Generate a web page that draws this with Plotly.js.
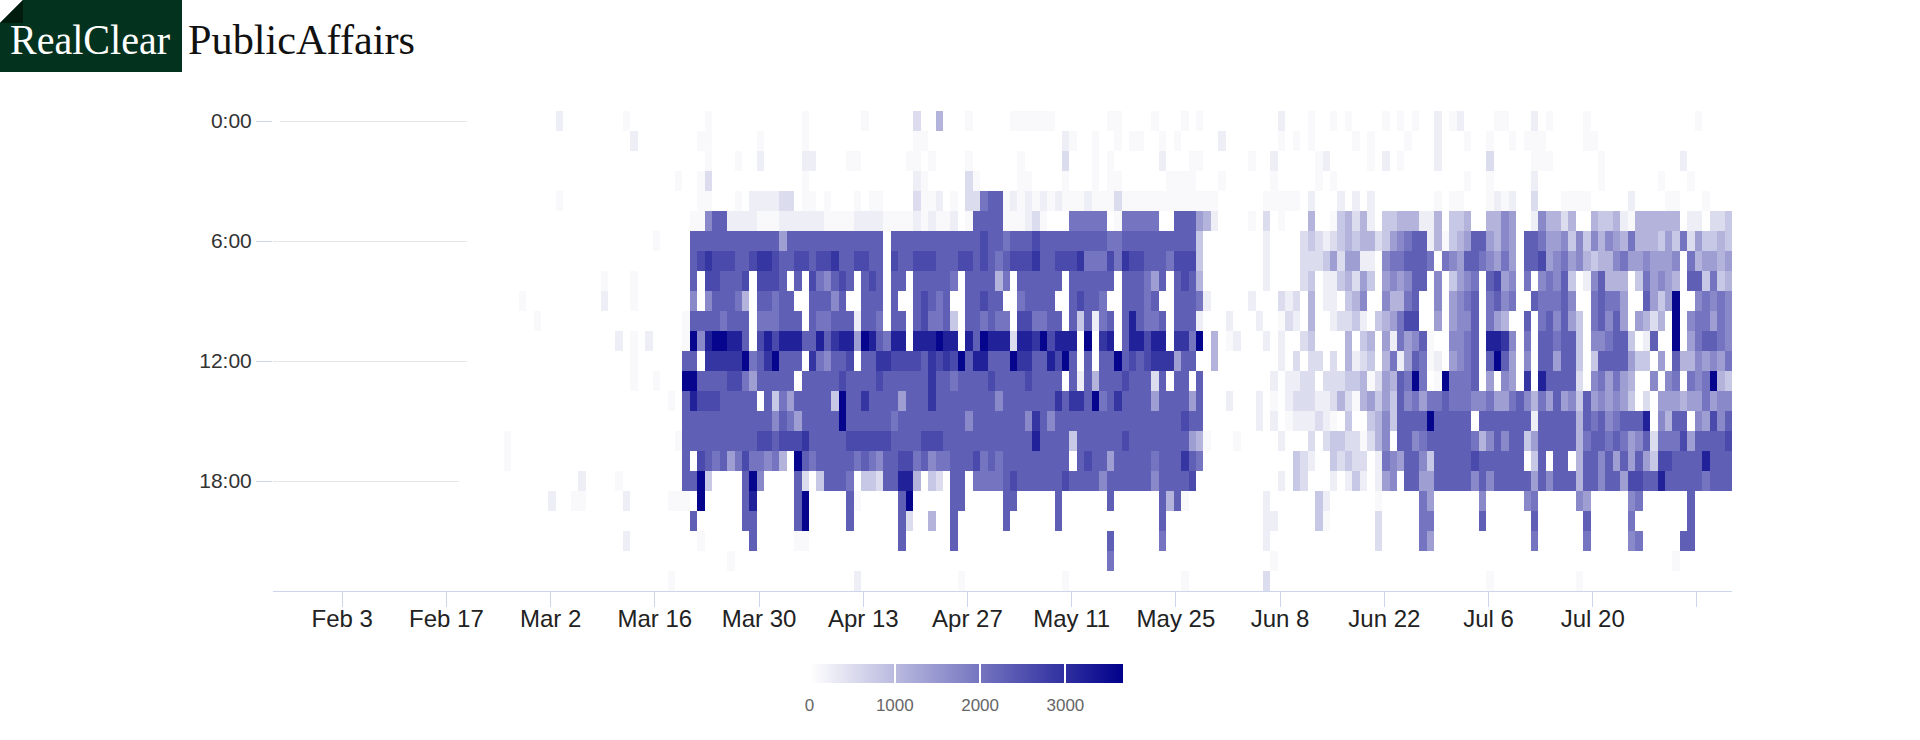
<!DOCTYPE html>
<html>
<head>
<meta charset="utf-8">
<script src="https://cdn.plot.ly/plotly-3.0.1.min.js"></script>
<style>
  html, body { margin: 0; padding: 0; background: #fff; }
  #wrap { position: relative; width: 1920px; height: 740px; }
  #chart { position: absolute; left: 0; top: 0; width: 1920px; height: 740px; }
  #logo { position: absolute; left: 0; top: 0; }
</style>
</head>
<body>
<div id="wrap">
  <div id="chart"></div>
  <svg id="logo" width="430" height="80" viewBox="0 0 430 80">
    <polygon points="23,0 182,0 182,72 0,72 0,23" fill="#03331f"/>
    <polygon points="0,23 23,0 23,23" fill="#011c0f"/>
    <text x="10" y="54" font-family="'Liberation Serif','Times New Roman',serif" font-size="42" fill="#ffffff" textLength="160" lengthAdjust="spacingAndGlyphs">RealClear</text>
    <text x="188" y="54" font-family="'Liberation Serif','Times New Roman',serif" font-size="42" fill="#111111" textLength="227" lengthAdjust="spacingAndGlyphs">PublicAffairs</text>
  </svg>
</div>
<script>
// ---------- DATA ----------
// Days: 2020-01-25 .. 2020-08-07 (196 days). Hours 0..23.
const firstDay = '2020-01-25';
const dayCount = 196;
const hours = Array.from({length: 24}, (_, h) => h);

// Level code -> estimated value ('.' = no data)
const levelValue = {'.': null, '0': 0, '1': 80, '2': 250, '3': 500, '4': 800, '5': 1100,
  '6': 1400, '7': 1700, '8': 2000, '9': 2300, 'A': 2600, 'B': 2900, 'C': 3200, 'D': 3600};

// Per hour: [Jan25, Feb19, Feb20-Mar15 (25), Mar16-Apr19 (35), Apr20-May24 (35), May25-Jun30 (37), Jul1-Aug7 (38)]
const hourRows = [
 ['0','.',"0000000000002000000001000","00000001000000000000100000001000000","30050001000001111110000000110000100","0101000000000020001001010000101010020","12000011000201000010000000000000010000"],
 ['.','.',"0000000000000000000000200","00000011000000100000100000000000000","11000000000000000000210010010110010","1000002000000010101000001010000100020","00100100101110000011000000000000000000"],
 ['.','.',"0000000000000000000000000","00000001000100200000220000110000001","10100001000000100000300010100000020","0011000000100200000120000010201000020","00000300000111000000100000000002000000"],
 ['.','.',"0000000000000000000000000","00010013000000000000100000000000000","21000003100000110000100010110000001","1110001000000100000101000000000000000","00100100000200000000100000001000100000"],
 ['.','.',"0000000000001000000000000","00000011000102222330110100010110000","31120103389912121212111211131111111","1111110000001111102000202020000000010","11000121200300011110000020000110001000"],
 ['.','.',"0000000000000000000000000","00000117992222111222222111122221111","21211201999911123100088888018888800","9996520000103010005001453520445552250","44500557600275535005445215555550220334"],
 ['.','.',"0000000000000000000000000","10000999999999999699999999999990999","999999999A998999A999999999889999999","9994000000002000034323454553467899251","45699657609986674747576585554648364454"],
 ['.','.',"0000000000000000000000000","000009ABAAA99ABBA99AA9AAB99AA990A99","AAA999AA9A989AAAB99AAAB888A8BAA9998","AAA4000000002000033346366220788999808","769987686099A6786754557866766670856656"],
 ['.','.',"0000000000000000001000100","0000090AA999A0AAA9090A879A909A90990","99999809999580999999099999909998690","9A95000000002000034022453640676799070","467809A6708078794027955504867650994845"],
 ['.','.',"0000000100000000002000100","00000707999850998990099979009990900","9A9890099A990089999009A998009998900","9998200000200032305022045700755890070","678908978009888970089886009646D0078787"],
 ['.','.',"0000000001000000000000000","00001999989990888999098899929980990","9A889409989880AA8899094928909C98890","9992000200020013205002334204568AA0060","677908650090897964089796065350D0788687"],
 ['.','.',"0000000000000000000020102","00001D7CDDCC90ACACCC99C9BCC6DC98CC0","CCCDCC0C9DCCC3CCBDACCC0D0BC09CCACC0","BB8D050120002020034000050450628679100","77890CCB7080998994077899402900D0689987"],
 ['.','.',"0000000000000000000000100","0000990BBBBBD89BD9990B8799A099BBAAA","A9BABAD9CC999DBB99CAD909099D9A9ABBB","6990050000000020303303052340582698120","678909D9607099699404999964406095576768"],
 ['.','.',"0000000000000000000000100","1000DD9999AA8699999099999A9999A9999","99B9989999A9999A999909295999A999390","99090000000002022330333445136598D801D","8889060760B0C9999307868650070780878D54"],
 ['.','.',"0000000000000000000000000","00109CAAA9999909486999994D99B999969","99B9999999979999999B9BB9D89B9999699","9969000200020102333223531564649786889","88877866897586967496767640306665668677"],
 ['.','.',"0000000000000000000000000","0000999999999999798699999D999999899","9999999799999997B979999999999999999","9A99000000020201222321040045749999D99","99909999999299999598978999C07599076A79"],
 ['.','.',"0000010000000000000000000","00019999999999AA9AAAB99999AAAAAA999","9AAA999999999999C99994999999A999999","9965100010000020003034433135709978999","9998579799469999958998986793888A69999A"],
 ['.','.',"0000010000000000000000000","000090A98968A887850D9899999898799AA","89788999A89899999999909A99699999899","9B98000000000000432004343302876997499","999A999999049099059979696964AA9999C999"],
 ['.','0',"0000000000000002000010000","000099D400009D7000093049998044399CC","5043099088889A999999A99997999999799","99A0000000000020430002024202670996699","999797999996979995997996AA99C999998999"],
 ['.','.',"0000000000020011000002000","001110D000009C000009D0000091000009D","00000990000099000009000000900000095","9100000000002000000420000001000008600","00007000007800000760000078000000900000"],
 ['.','.',"0000000000000000000000000","00000900000099000009D00000900000093","00500900000090000009000000000000090","0000000000002200000410000003000008800","00009000000900000090000080000000900000"],
 ['.','.',"0000000000000000000002000","00000010000009000001100000000000090","00000900000000000000000000900000080","0000000000002000000000000003000008600","00000000000800000080000078000009900000"],
 ['.','.',"0000000000000000000000000","00000000001000000000000000000000000","00000000000000000000000000800000000","0000000000000100000000000000000000000","00000000000000000000000000000010000000"],
 ['.','.',"0000000000000000000000000","00100000000000000000000000020000000","00000010000000000000100000000000000","0100000000003000000000000000000000000","00000100000000000100000000000000000000"]
];

const tickDates = ['2020-02-03','2020-02-17','2020-03-02','2020-03-16','2020-03-30','2020-04-13',
  '2020-04-27','2020-05-11','2020-05-25','2020-06-08','2020-06-22','2020-07-06','2020-07-20','2020-08-03'];
const tickLabels = ['Feb 3','Feb 17','Mar 2','Mar 16','Mar 30','Apr 13','Apr 27','May 11','May 25',
  'Jun 8','Jun 22','Jul 6','Jul 20',''];
const hourTicks = [0, 6, 12, 18];
const hourLabels = ['0:00', '6:00', '12:00', '18:00'];
const scaleTicks = [0, 1000, 2000, 3000];
const scaleMax = 3670;

// ---------- BUILD ----------
const segLens = [1, 1, 25, 35, 35, 37, 38];
const problems = [];
const z = hourRows.map((segs, h) => {
  segs.forEach((s, k) => { if (s.length !== segLens[k]) problems.push('h' + h + ' seg' + k + ' len ' + s.length); });
  const code = segs[0] + '.'.repeat(24) + segs[1] + segs.slice(2).join('');
  return code.split('').map(c => levelValue[c]);
});
if (problems.length) console.error('LENGTH PROBLEMS: ' + problems.join('; '));

const t0 = Date.parse(firstDay + 'T00:00:00Z');
const days = Array.from({length: dayCount}, (_, k) =>
  new Date(t0 + k * 86400000).toISOString().slice(0, 10) + ' 05:00');

const colors = [[0, '#ffffff'], [1, '#00008b']];
const barFont = {family: "'Liberation Sans', Arial, sans-serif", size: 17, color: '#666666'};
const barBase = {
  orientation: 'h',
  x: 0.475, xanchor: 'center',
  y: -0.152, yanchor: 'top',
  len: 313, lenmode: 'pixels',
  thickness: 19, thicknessmode: 'pixels',
  outlinewidth: 0,
  xpad: 0, ypad: 0,
  tickmode: 'array', tickvals: scaleTicks, ticktext: scaleTicks.map(String),
  tickfont: barFont
};

// main data trace: its colour bar carries the labels
const trace = {
  type: 'heatmap',
  x: days,
  y: hours,
  z: z,
  zmin: 0,
  zmax: scaleMax,
  colorscale: colors,
  hoverongaps: false,
  colorbar: Object.assign({}, barBase, {ticks: 'outside', ticklen: 8, tickwidth: 1, tickcolor: '#ffffff'})
};
// invisible companion trace (repeats the first cell, fully transparent):
// its colour bar is drawn on top and adds the white separators
const sepTrace = {
  type: 'heatmap',
  x: [days[0]],
  y: [hours[0]],
  z: [[z[0][0]]],
  zmin: 0,
  zmax: scaleMax,
  colorscale: colors,
  opacity: 0,
  hoverinfo: 'skip',
  colorbar: Object.assign({}, barBase, {ticks: 'inside', ticklen: 19, tickwidth: 2, tickcolor: '#ffffff', showticklabels: false})
};

const layout = {
  width: 1920, height: 740,
  margin: {l: 273, r: 188, t: 111, b: 149, pad: 0},
  paper_bgcolor: '#ffffff',
  plot_bgcolor: '#ffffff',
  showlegend: false,
  font: {family: "'Liberation Sans', Arial, sans-serif", color: '#222222'},
  xaxis: {
    type: 'date',
    range: ['2020-01-24 17:00', '2020-08-07 17:00'],
    showgrid: false, zeroline: false,
    showline: true, linecolor: '#ccd6eb', linewidth: 1,
    ticks: 'outside', ticklen: 15, tickwidth: 1, tickcolor: '#ccd6eb',
    tickmode: 'array', tickvals: tickDates, ticktext: tickLabels,
    ticklabelstandoff: -9,
    tickfont: {size: 24, color: '#222222'}
  },
  yaxis: {
    range: [23.5, -0.5],
    showgrid: true, gridcolor: '#e6e6e6', gridwidth: 1,
    zeroline: false, showline: false,
    ticks: 'outside', ticklen: 16, tickwidth: 1, tickcolor: '#ccd6eb',
    tickmode: 'array', tickvals: hourTicks, ticktext: hourLabels,
    tickfont: {size: 21, color: '#333333'}
  }
};

if (problems.length) {
  layout.annotations = [{text: problems.join(' | '), xref: 'paper', yref: 'paper', x: 0, y: 1.15, showarrow: false, font: {size: 12, color: 'red'}}];
}

Plotly.newPlot('chart', [trace, sepTrace], layout, {staticPlot: true, displayModeBar: false});
</script>
</body>
</html>
